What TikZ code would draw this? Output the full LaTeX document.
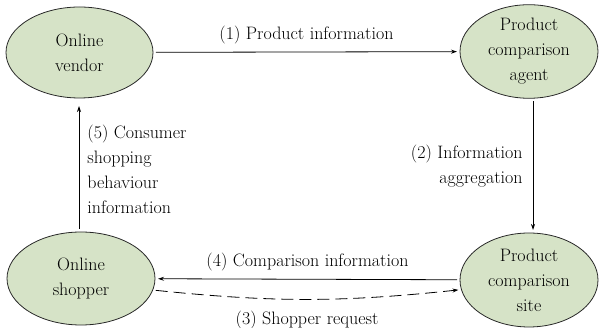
\documentclass[tikz,border=0pt]{standalone}
\usetikzlibrary{shapes.geometric,arrows.meta}
\definecolor{ellfill}{RGB}{214,227,199}
\definecolor{ellline}{RGB}{40,40,40}
\begin{document}
\begin{tikzpicture}[x=1pt,y=1pt,
  every node/.style={font=\fontsize{18}{25}\selectfont},
  ent/.style={ellipse, draw=ellline, fill=ellfill, line width=0.8pt, inner sep=0pt, outer sep=3pt, align=center},
  lbl/.style={inner sep=2pt},
  arr/.style={line width=0.8pt, -{Stealth[length=6pt,width=4pt,inset=2pt]}}
]
\useasboundingbox (0,0) rectangle (599,328);
\node[ent, minimum width=147pt, minimum height=91pt] (vendor) at (79.5,275.5) {Online\\vendor};
\node[ent, minimum width=138pt, minimum height=93pt] (agent) at (529,276.5) {Product\\comparison\\agent};
\node[ent, minimum width=138pt, minimum height=94pt] (site) at (529,48) {Product\\comparison\\site};
\node[ent, minimum width=148pt, minimum height=93pt] (shopper) at (81,49.5) {Online\\shopper};

\draw[arr] (vendor) -- node[lbl, midway, above=5.5pt] {(1) Product information} (agent);
\draw[arr] ([xshift=4pt]agent.south) -- node[lbl, midway, left=8pt, align=right] {(2) Information\\aggregation} ([xshift=4pt]site.north);
\draw[arr] (site) -- node[lbl, midway, above=5.5pt] {(4) Comparison information} (shopper);
\draw[arr, dash pattern=on 12pt off 6pt] (shopper.-9) to[bend right=6] node[lbl, midway, below=9.5pt] {(3) Shopper request} (site.188);
\draw[arr] ([xshift=-2pt]shopper.north) -- node[lbl, midway, right=6pt, yshift=-1.5pt, align=left] {(5) Consumer\\shopping\\behaviour\\information} ([xshift=-0.5pt,yshift=-5pt]vendor.south);
\end{tikzpicture}
\end{document}
